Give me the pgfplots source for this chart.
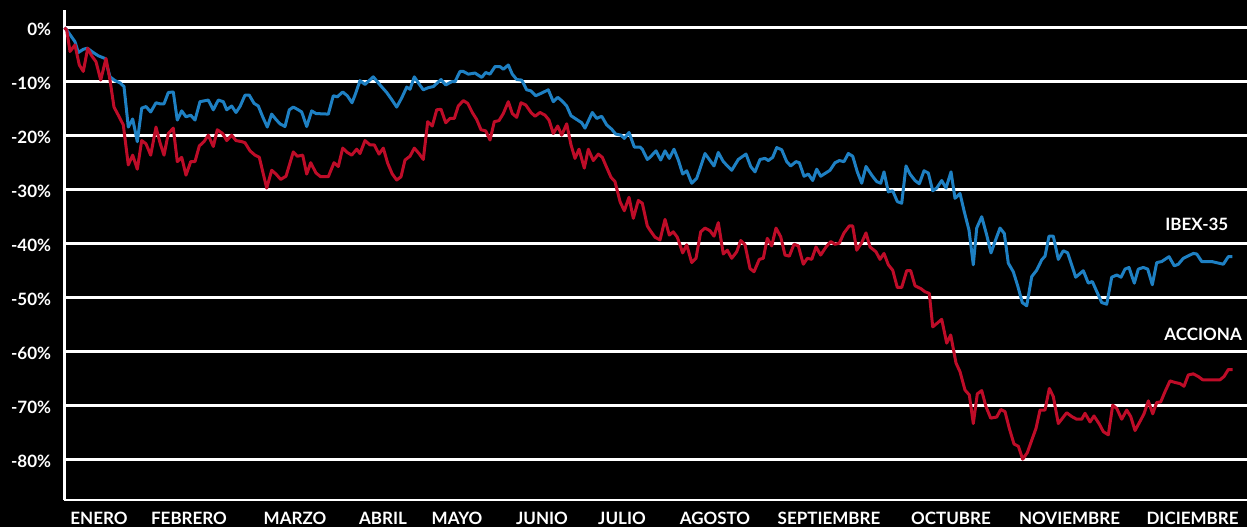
\documentclass[border=0pt]{standalone}
\usepackage{pgfplots}
\pgfplotsset{compat=1.18}
\usepackage{fontspec}
\setmainfont{Lato}
\definecolor{ibex}{RGB}{30,128,195}
\definecolor{acc}{RGB}{190,12,40}

% IBEX-35, % change since 1 January (x = position along the year)
\pgfplotstableread{
x y
64.5 0
66.7 -0.4
75 -2.6
78.3 -4.6
83.3 -4.0
87.3 -3.8
93.3 -4.6
98.3 -5.2
105 -5.7
110 -9.1
115 -9.8
120 -10.2
124 -10.9
128.3 -18.4
132.7 -16.9
137.3 -21.1
141.7 -14.9
146 -14.6
150.7 -15.6
156 -13.9
160 -14.1
164 -14.1
168.3 -12.0
173.3 -11.9
177.3 -17.1
181.7 -15.4
186 -16.5
190.7 -16.2
195 -17.1
200 -13.7
208.3 -13.4
213.3 -15.2
218.3 -13.4
223.3 -13.7
226.7 -15.2
231.7 -14.5
236 -15.7
240 -14.6
245 -12.5
249.3 -12.5
254 -14.0
258.3 -14.5
262.7 -16.5
267.3 -18.4
271.7 -16.0
276 -17.0
280 -17.8
285 -18.3
289.3 -15.2
293.3 -14.7
297.3 -15.1
301.7 -15.6
306.7 -18.3
311.7 -15.4
316 -15.9
328.3 -16.0
333.3 -12.6
337.3 -12.8
342.7 -11.9
347.3 -12.6
352 -13.9
355 -12.5
360 -9.8
365 -10.5
373.3 -9.1
380 -10.6
386.7 -12.0
391.7 -13.3
396.7 -14.7
401.7 -13.0
406.7 -11.0
410 -11.4
414.3 -9.1
419 -10.4
423.3 -11.5
428.3 -11.1
433.3 -10.9
441 -9.6
445.7 -10.6
451.7 -10.0
455 -10.0
460 -8.1
463.3 -8.1
468.3 -8.6
475 -8.4
481.7 -9.2
485.7 -8.3
490 -8.6
495 -7.2
500 -7.2
503.3 -7.7
508.3 -6.9
512.3 -8.6
516.7 -9.6
521.7 -9.7
526.7 -11.5
531 -11.7
535.7 -12.6
541.7 -12.1
548.3 -11.5
553.3 -13.7
557.7 -12.9
561.7 -13.5
566.7 -14.5
571 -16.3
576.7 -17.0
581.7 -17.6
585 -18.6
592.3 -15.7
596.7 -16.8
601.7 -16.4
606.7 -18.0
611.7 -18.8
615.7 -19.7
621 -19.9
624.3 -20.5
629 -19.4
634.3 -22.1
640 -22.1
642.3 -22.5
647.3 -24.4
650 -24.0
656 -22.8
660.7 -24.5
665 -22.8
669.3 -24.2
674 -22.5
678.3 -24.5
682.7 -27.1
686.7 -26.5
691.7 -28.8
696.7 -27.9
705 -23.3
714 -25.6
718.3 -23.1
723.3 -24.8
731.7 -26.4
738.3 -24.4
746 -23.4
750.7 -25.7
755 -26.7
760 -24.4
765 -24.2
768.3 -24.6
772.7 -24.0
776.7 -22.2
781.7 -22.6
786.7 -24.8
790.7 -25.6
796 -24.8
799.3 -25.0
804 -27.5
808.3 -27.1
812.7 -28.3
816.7 -26.2
820.7 -27.5
830 -26.4
835 -25.0
839.3 -24.6
844 -24.8
848.3 -23.3
852.7 -23.8
857.3 -26.7
861.7 -28.8
866 -25.7
871.7 -27.3
876.7 -28.5
880.7 -28.8
884 -26.7
888.3 -30.4
892.7 -30.2
897.3 -32.2
901.7 -32.5
906 -25.6
910 -27.1
915 -28.3
919.3 -28.9
924 -26.5
928.3 -26.9
932.7 -30.2
936.7 -29.7
941.7 -28.3
946 -29.7
951 -26.7
955 -31.6
960 -30.7
964.3 -34.1
969 -37.5
973.3 -43.9
976.7 -37.1
981.7 -35.0
986.7 -38.4
991 -41.7
995 -39.6
1000 -37.1
1004.3 -38.1
1008.3 -43.6
1013.3 -45.2
1017.7 -47.8
1022.3 -50.9
1026.7 -51.5
1031.7 -46.1
1036.7 -44.9
1041.7 -43.0
1045 -42.3
1049 -38.6
1053.3 -38.6
1058.3 -42.9
1063.3 -41.3
1067.7 -41.7
1075.7 -46.2
1083.3 -45.0
1088.3 -47.3
1092.3 -47.0
1101.7 -50.9
1106.7 -51.2
1111.7 -46.2
1116.7 -45.8
1121 -46.2
1125 -44.7
1129 -44.4
1134.3 -47.3
1138.3 -44.7
1143.3 -44.4
1147.7 -44.7
1152.3 -47.6
1156.7 -43.5
1161.7 -43.3
1169 -42.4
1174.3 -44.1
1178.3 -43.8
1183.3 -42.7
1193.3 -41.8
1196.7 -41.9
1201.7 -43.3
1211.7 -43.3
1223.3 -43.8
1228.3 -42.4
1232.3 -42.4
}\ibex

% ACCIONA
\pgfplotstableread{
x y
64.5 0
66.7 -0.4
70 -4.4
75 -3.2
79.3 -6.9
83.3 -8.1
87.7 -3.8
91.7 -5.2
96 -6.3
100.7 -9.7
106 -5.7
110 -9.7
114 -14.7
118.3 -16.2
123.3 -18.0
128.3 -25.4
132.7 -23.6
137.3 -26.2
141.7 -20.9
146 -21.5
150.7 -23.6
156 -18.4
160 -21.3
164 -23.6
168.3 -19.6
173.3 -18.6
177.3 -24.8
181.7 -24.0
186 -27.3
190.7 -24.8
195 -24.8
199.3 -21.9
204 -21.1
208.3 -19.9
213.3 -22.0
217.3 -18.9
222.7 -19.6
226.7 -20.9
231.7 -19.9
236 -20.9
241.7 -21.1
245 -21.3
250 -22.8
255 -23.6
259.3 -24.0
266.7 -29.7
271.7 -26.4
276 -27.1
280.7 -28.1
286 -27.5
293.3 -23.0
297.3 -23.8
302.7 -23.6
306.7 -27.1
310.7 -25.0
316 -26.9
320.7 -27.6
328.3 -27.6
334 -25.0
338.3 -25.7
342.7 -22.3
347.3 -23.1
351.7 -23.6
356.7 -22.5
360 -23.3
365 -20.9
370 -21.7
374.3 -21.7
379 -23.4
383.3 -22.3
387.7 -25.1
392.3 -27.1
396.7 -28.2
401 -27.6
405 -24.5
410 -23.8
414.3 -22.3
419 -23.3
423.3 -24.4
427.7 -17.4
432.3 -18.2
436.7 -15.2
441 -15.1
445.7 -17.6
450 -16.8
454.3 -16.8
458.3 -14.5
463.3 -13.5
467.7 -14.0
472.3 -15.7
476.7 -17.0
481 -18.9
485.7 -19.1
490 -20.8
494.3 -17.4
499 -17.2
503.3 -15.9
508.3 -13.7
512.3 -15.9
516.7 -16.6
521 -13.9
525.7 -14.3
531 -15.7
535 -16.4
540 -15.7
545 -16.2
549 -17.1
553.3 -19.6
557.7 -18.2
561.7 -19.9
566.7 -17.8
571 -21.7
575 -24.2
579 -22.5
584.3 -26.0
588.3 -22.5
593.3 -24.6
598.3 -23.4
602.3 -24.0
606.7 -25.9
611 -27.7
615 -28.5
620 -32.2
624.3 -33.9
629 -31.4
633.3 -35.3
638.3 -32.0
642.3 -32.5
647.3 -36.7
650 -37.5
655 -38.8
660 -39.3
665 -35.5
669.3 -38.4
673.3 -37.8
677.3 -38.8
682.7 -41.7
686.7 -40.2
691.7 -43.5
696 -42.7
700.7 -37.8
705 -37.1
710 -37.6
714 -38.6
718.3 -36.1
723.3 -41.9
727.3 -41.2
731.7 -42.7
736.7 -41.5
740.7 -39.4
745 -40.2
750 -44.6
754 -45.2
759.3 -42.9
763.3 -42.7
767.3 -39.0
771.7 -40.4
776 -37.1
780.7 -38.7
785 -42.1
789.3 -42.3
794 -40.1
798.3 -40.4
803.3 -43.8
807.3 -42.7
811.7 -42.9
816 -40.6
820.7 -42.1
826 -40.6
830.7 -39.6
835 -40.1
839.3 -39.9
844 -38.0
849.3 -36.7
852.7 -36.7
856.7 -41.2
861.7 -39.8
866 -38.0
870 -40.6
876 -41.5
880 -42.9
884 -41.8
888.3 -43.9
892.7 -44.9
897.3 -48.1
901.7 -48.1
906.7 -45.0
910.7 -45.0
915 -47.8
920.7 -48.3
925 -48.9
929.3 -49.2
932.7 -55.4
937.3 -54.7
941.7 -54.0
946.7 -58.4
950.7 -56.9
956 -62.1
960 -63.7
965 -67.1
969.3 -68.0
973.3 -73.3
977.3 -67.8
981.7 -67.2
986 -70.2
990.7 -72.3
996.7 -72.1
1000.7 -70.7
1005 -71.1
1009.3 -74.2
1014 -77.1
1018.3 -77.5
1022.7 -79.9
1027.3 -78.7
1031.7 -76.4
1036 -74.2
1040 -70.8
1045 -70.8
1049.3 -66.8
1053.3 -68.3
1058.3 -73.3
1066.7 -71.3
1071.7 -72.0
1076.7 -72.5
1081.7 -72.5
1085 -71.4
1090 -73.0
1094 -71.9
1099.3 -73.4
1103.3 -74.8
1108.3 -75.4
1112.7 -69.9
1116.7 -70.5
1121.7 -72.5
1126.7 -70.8
1130.7 -72.0
1135 -74.6
1140 -72.9
1144 -71.5
1148.3 -69.1
1152.7 -71.5
1156.7 -69.4
1160.7 -69.3
1165 -67.4
1170 -65.4
1175 -65.7
1180 -65.9
1184 -66.4
1188.3 -64.3
1193.3 -64.1
1198.3 -64.6
1202.7 -65.2
1220 -65.2
1224 -64.6
1228.3 -63.3
1232.7 -63.3
}\acciona

\begin{document}
\begin{tikzpicture}
\path[use as bounding box, fill=black] (-64.3pt,-27pt) rectangle (1182.7pt,500pt);
\begin{axis}[
    at={(0,0)}, anchor=south west,
    scale only axis, width=1182.7pt, height=490pt,
    xmin=64.3, xmax=1247, ymin=-87.46, ymax=3.28,
    axis x line=bottom, axis y line=left,
    axis line style={-, white, line width=2.5pt},
    major tick length=0pt,
    ytick={-80,-70,-60,-50,-40,-30,-20,-10,0},
    yticklabels={-80\%,-70\%,-60\%,-50\%,-40\%,-30\%,-20\%,-10\%,0\%},
    xtick={99,189,295,383,457,542,622,715,829,951,1069.5,1192.5},
    xticklabels={ENERO,FEBRERO,MARZO,ABRIL,MAYO,JUNIO,JULIO,AGOSTO,SEPTIEMBRE,OCTUBRE,NOVIEMBRE,DICIEMBRE},
    ymajorgrids, grid style={white, line width=2.5pt},
    tick label style={white, font=\fontsize{17}{20}\selectfont\bfseries, inner sep=0pt},
    yticklabel style={anchor=east, xshift=-13pt, yshift=-1.5pt},
    xticklabel style={anchor=north, yshift=-12pt},
    clip=false,
  ]
  \addplot[ibex, line width=3pt, line join=round] table[x=x, y=y] {\ibex};
  \addplot[acc, line width=3pt, line join=round] table[x=x, y=y] {\acciona};
  \node[anchor=east, white, inner sep=0pt, font=\fontsize{17}{20}\selectfont\bfseries] at (axis cs:1228.5,-36.5) {IBEX-35};
  \node[anchor=east, white, inner sep=0pt, font=\fontsize{17}{20}\selectfont\bfseries] at (axis cs:1242,-56.7) {ACCIONA};
\end{axis}
\end{tikzpicture}
\end{document}
